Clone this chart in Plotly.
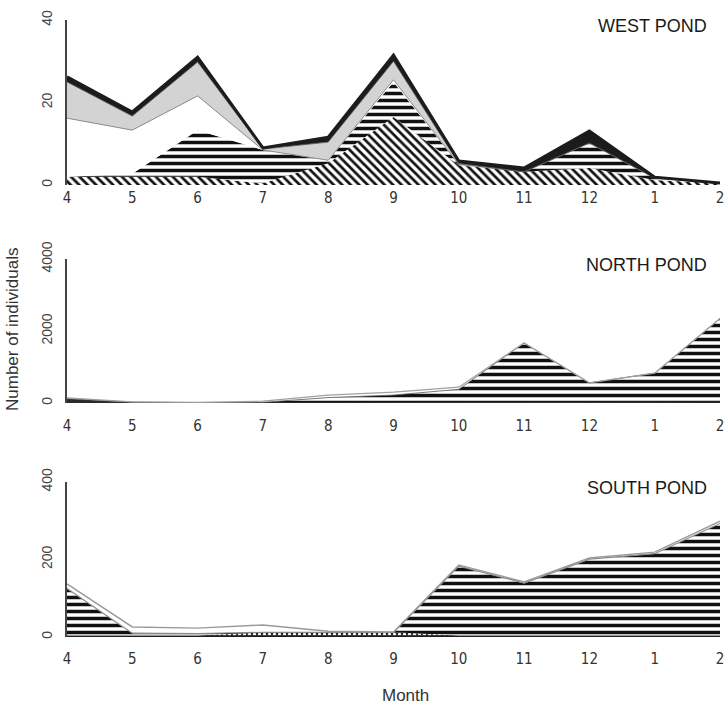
import plotly.graph_objects as go

# Sampling months (April through February)
months = ["4", "5", "6", "7", "8", "9", "10", "11", "12", "1", "2"]

# West pond, layers listed bottom to top
west_diag = [2.0, 2.0, 2.0, 0.4, 5.3, 16.5, 4.8, 3.2, 4.1, 1.2, 0.4]
west_hstripe = [0.0, 0.7, 11.3, 8.1, 0.7, 8.5, 0.2, 0.0, 6.1, 0.5, 0.0]
west_white = [14.2, 10.6, 8.3, 0.0, 0.0, 0.5, 0.0, 0.0, 0.0, 0.0, 0.0]
west_gray = [8.8, 3.4, 8.2, 0.2, 4.4, 4.5, 0.2, 0.0, 0.0, 0.0, 0.0]
west_black = [1.2, 1.0, 1.2, 0.3, 1.2, 1.5, 0.6, 0.9, 2.9, 0.2, 0.1]

# North pond, layers listed bottom to top
north_black = [120, 20, 10, 10, 20, 20, 30, 30, 30, 30, 30]
north_hstripe = [0, 0, 0, 10, 130, 200, 350, 1640, 530, 800, 2320]
north_gray = [20, 10, 10, 30, 70, 80, 60, 0, 0, 0, 0]

# South pond, layers listed bottom to top
south_black = [4, 4, 4, 3, 3, 3, 4, 4, 4, 4, 4]
south_dots = [0, 0, 0, 9, 9, 9, 0, 0, 0, 0, 0]
south_hstripe = [121, 6, 5, 0, 0, 0, 179, 135, 197, 211, 289]
south_gray = [12, 16, 14, 19, 3, 1, 3, 3, 3, 4, 6]

y_ticks = {1: [0, 20, 40], 2: [0, 2000, 4000], 3: [0, 200, 400]}
y_ranges = {1: [0, 40], 2: [0, 4000], 3: [0, 400]}
pond_names = {1: "WEST POND", 2: "NORTH POND", 3: "SOUTH POND"}

W, H = 724, 710
X0, X1 = 67, 720
# pixel rows of the zero line and top tick of each panel
panel_px = {1: (185, 20), 2: (403, 259), 3: (637, 482)}
label_gap = {1: 2, 2: 12, 3: 11}

HSTRIPE = dict(shape="-", size=7, solidity=0.5, fgcolor="#111111", bgcolor="white", fgopacity=1)
DIAG = dict(shape="\\", size=6, solidity=0.45, fgcolor="#111111", bgcolor="white", fgopacity=1)
DOTS = dict(shape=".", size=5, solidity=0.35, fgcolor="white", bgcolor="#1a1a1a", fgopacity=1)

fig = go.Figure()


def layer(panel, values, stack, fillcolor=None, pattern=None, line_color="#111111", line_width=0.0):
    ax = "" if panel == 1 else str(panel)
    tr = go.Scatter(
        x=months,
        y=values,
        mode="lines",
        stackgroup=stack,
        line=dict(color=line_color, width=line_width),
        fillcolor=fillcolor if fillcolor else "white",
        xaxis="x" + ax,
        yaxis="y" + ax,
        hoverinfo="skip",
        showlegend=False,
    )
    if pattern:
        tr.fillpattern = pattern
    fig.add_trace(tr)


# West pond
layer(1, west_diag, "w", pattern=DIAG, line_width=0)
layer(1, west_hstripe, "w", pattern=HSTRIPE, line_width=0)
layer(1, west_white, "w", fillcolor="white", line_color="#8a8a8a", line_width=1.0)
layer(1, west_gray, "w", fillcolor="#d3d3d3", line_color="#555555", line_width=0.8)
layer(1, west_black, "w", fillcolor="#1c1c1c", line_color="#1c1c1c", line_width=3.0)

# North pond
layer(2, north_black, "n", fillcolor="#2a2a2a", line_color="#2a2a2a", line_width=1.0)
layer(2, north_hstripe, "n", pattern=HSTRIPE, line_color="#555555", line_width=0.8)
layer(2, north_gray, "n", fillcolor="white", line_color="#a0a0a0", line_width=1.2)

# South pond
layer(3, south_black, "s", fillcolor="#1e1e1e", line_color="#1e1e1e", line_width=0.8)
layer(3, south_dots, "s", pattern=DOTS, line_width=0)
layer(3, south_hstripe, "s", pattern=HSTRIPE, line_color="#8a8a8a", line_width=1.2)
layer(3, south_gray, "s", fillcolor="white", line_color="#9a9a9a", line_width=1.4)

layout = dict(
    template="none",
    width=W,
    height=H,
    margin=dict(l=0, r=0, t=0, b=0, pad=0, autoexpand=False),
    paper_bgcolor="white",
    plot_bgcolor="white",
    showlegend=False,
    font=dict(family="Liberation Sans, Arial, sans-serif", color="#333333"),
)

annotations = []
for p in (1, 2, 3):
    ax = "" if p == 1 else str(p)
    y0px, y1px = panel_px[p]
    layout["xaxis" + ax] = dict(
        type="category",
        domain=[X0 / W, X1 / W],
        range=[0, len(months) - 1],
        anchor="y" + ax,
        automargin=False,
        tickvals=months,
        ticktext=months,
        showline=False,
        showgrid=False,
        zeroline=False,
        ticks="",
        ticklabelstandoff=label_gap[p],
        tickfont=dict(family="Liberation Sans Narrow, DejaVu Sans Condensed, Liberation Sans",
                      size=15, color="#333333"),
        fixedrange=True,
    )
    layout["yaxis" + ax] = dict(
        domain=[1 - y0px / H, 1 - y1px / H],
        range=y_ranges[p],
        anchor="x" + ax,
        automargin=False,
        tickvals=y_ticks[p],
        ticktext=[str(v) for v in y_ticks[p]],
        tickangle=-90,
        showline=True,
        linecolor="#444444",
        linewidth=1.5,
        showgrid=False,
        zeroline=False,
        ticks="",
        ticklabelstandoff=8,
        tickfont=dict(family="Liberation Sans, Arial, sans-serif", size=14, color="#444444"),
        fixedrange=True,
    )
    annotations.append(dict(
        text=pond_names[p],
        xref="paper", yref="paper",
        x=709 / W, y=1 - (y1px + 6) / H,
        xanchor="right", yanchor="middle",
        showarrow=False,
        font=dict(family="Liberation Sans Narrow, Liberation Sans, Arial", size=18, color="#1a1a1a"),
    ))

annotations.append(dict(
    text="Number of individuals",
    xref="paper", yref="paper",
    x=12 / W, y=1 - 330 / H,
    xanchor="center", yanchor="middle",
    textangle=-90,
    showarrow=False,
    font=dict(family="Liberation Sans, Arial, sans-serif", size=17, color="#333333"),
))
annotations.append(dict(
    text="Month",
    xref="paper", yref="paper",
    x=406 / W, y=1 - 695 / H,
    xanchor="center", yanchor="middle",
    showarrow=False,
    font=dict(family="Liberation Sans Narrow, Liberation Sans, Arial", size=17, color="#333333"),
))
layout["annotations"] = annotations

fig.update_layout(**layout)
fig.write_html("out.html")
